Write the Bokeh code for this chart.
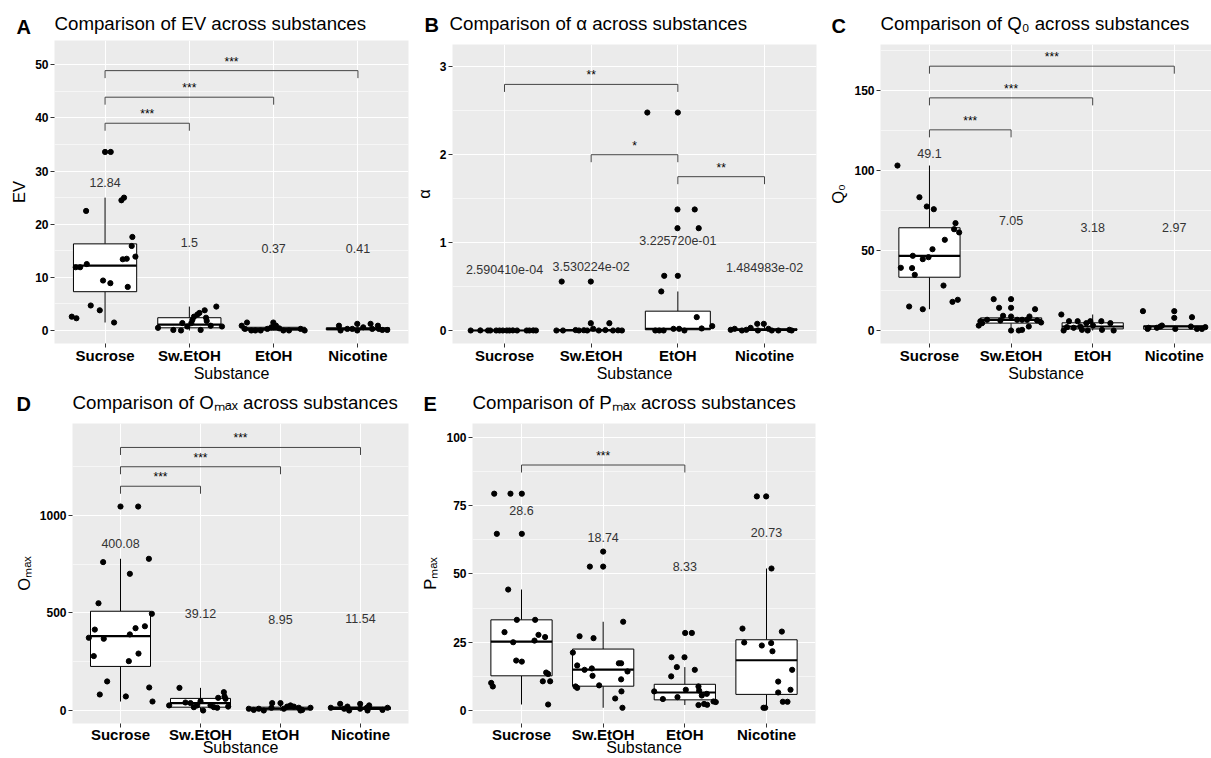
from bokeh.plotting import figure
from bokeh.models import FixedTicker, Range1d
from bokeh.layouts import row, column
from bokeh.embed import file_html
from bokeh.resources import INLINE
from bokeh.core.properties import value

FONT = "Liberation Sans"
CATEGORIES = ["Sucrose", "Sw.EtOH", "EtOH", "Nicotine"]

# ---------------- Panel A : EV ----------------
ev_suc = [33.6, 33.6, 22.5, 24.5, 25.0, 17.6, 15.9, 13.9, 13.4, 13.5, 11.9, 11.9, 12.5, 9.4, 8.9, 8.2, 4.7, 3.8, 2.6, 2.3, 1.5]
ev_suc_jit = [0.0, 0.067, -0.225, 0.194, 0.225, 0.324, 0.316, 0.36, 0.21, 0.257, -0.348, -0.296, -0.217, -0.024, 0.063, 0.269, -0.17, -0.063, -0.395, -0.34, 0.107]
ev_sw = [0.5, 0.1, 0.0, 1.4, 1.4, 2.6, 3.0, 3.3, 3.8, 4.5, 2.4, 1.8, 0.1, 0.9, 0.75, 2.0, 0.75]
ev_sw_jit = [-0.372, -0.19, -0.099, -0.083, 0.024, 0.055, 0.095, 0.119, 0.182, 0.32, 0.198, 0.206, 0.134, 0.253, 0.387, 0.036, -0.024]
ev_etoh = [0.9, 1.5, 0.3, 0.0, 0.0, 0.0, 0.3, 0.6, 1.5, 0.9, 0.4, 0.0, 0.0, 0.3, 0.0]
ev_etoh_jit = [-0.379, -0.316, -0.34, -0.265, -0.217, -0.154, -0.075, -0.028, -0.004, 0.028, 0.067, 0.115, 0.182, 0.32, 0.368]
ev_nic = [0.9, 0.0, 0.3, 0.3, 1.25, 0.0, 0.6, 1.25, 0.3, 0.9, 0.3, 0.1, 0.1]
ev_nic_jit = [-0.225, -0.206, -0.126, -0.067, -0.008, -0.008, 0.063, 0.15, 0.17, 0.237, 0.249, 0.289, 0.348]
ev_q1 = [7.3, 0.5, 0.05, 0.1]
ev_med = [12.2, 1.1, 0.3, 0.3]
ev_q3 = [16.3, 2.4, 0.6, 0.5]
ev_lo = [1.5, 0.0, 0.0, 0.0]
ev_hi = [25.0, 4.5, 1.5, 1.25]
ev_mean = [12.84, 1.5, 0.37, 0.41]
ev_mean_text = ["12.84", "1.5", "0.37", "0.41"]
ev_br_from = ["Sucrose", "Sucrose", "Sucrose"]
ev_br_to = ["Sw.EtOH", "EtOH", "Nicotine"]
ev_br_y = [39.0, 43.9, 48.9]
ev_br_text = ["***", "***", "***"]
ev_ticks = [0, 10, 20, 30, 40, 50]
ev_minor = [5, 15, 25, 35, 45]

# ---------------- Panel B : alpha ----------------
al_suc = [0.0, 0.001, 0.0, 0.0, 0.0, 0.0, 0.0, 0.0, 0.0, 0.001, 0.0, 0.0, 0.0, 0.001, 0.0]
al_suc_jit = [-0.39, -0.279, -0.191, -0.164, -0.096, -0.057, -0.019, 0.027, 0.057, 0.096, 0.145, 0.256, 0.287, 0.332, 0.363]
al_sw = [0.557, 0.557, 0.083, 0.083, 0.0, 0.0, 0.005, 0.0, 0.003, 0.0, 0.02, 0.0, 0.005, 0.0, 0.002, 0.0]
al_sw_jit = [-0.34, -0.004, -0.004, 0.21, -0.401, -0.325, -0.18, -0.141, -0.084, -0.046, 0.023, 0.088, 0.164, 0.252, 0.31, 0.355]
al_etoh = [2.48, 2.48, 1.377, 1.377, 1.164, 1.164, 0.622, 0.622, 0.444, 0.152, 0.05, 0.023, 0.0, 0.0, 0.0, 0.019, 0.019, 0.0]
al_etoh_jit = [-0.352, 0.0, -0.004, 0.195, -0.004, 0.241, -0.157, 0.0, -0.191, 0.218, 0.397, 0.275, -0.26, -0.214, -0.164, -0.05, 0.015, 0.076]
al_nic = [0.008, 0.019, 0.0, 0.008, 0.03, 0.076, 0.0, 0.076, 0.019, 0.0, 0.0, 0.008, 0.0]
al_nic_jit = [-0.39, -0.344, -0.26, -0.21, -0.16, -0.084, -0.076, -0.008, 0.046, 0.084, 0.16, 0.287, 0.313]
al_q1 = [0.0, 0.0, 0.008, 0.002]
al_med = [0.0, 0.002, 0.02, 0.008]
al_q3 = [0.001, 0.01, 0.22, 0.02]
al_lo = [0.0, 0.0, 0.0, 0.0]
al_hi = [0.001, 0.02, 0.444, 0.05]
al_mean = [2.590410e-04, 3.530224e-02, 3.225720e-01, 1.484983e-02]
al_mean_text = ["2.590410e-04", "3.530224e-02", "3.225720e-01", "1.484983e-02"]
al_br_from = ["Sucrose", "Sw.EtOH", "EtOH"]
al_br_to = ["EtOH", "EtOH", "Nicotine"]
al_br_y = [2.80, 2.00, 1.75]
al_br_text = ["**", "*", "**"]
al_ticks = [0, 1, 2, 3]
al_minor = [0.5, 1.5, 2.5]

# ---------------- Panel C : Q0 ----------------
q0_suc = [103.1, 83.3, 77.5, 75.8, 67.1, 63.3, 61.3, 56.7, 50.8, 46.7, 44.6, 45.8, 39.2, 39.0, 34.8, 28.1, 17.9, 19.2, 15.0, 13.3]
q0_suc_jit = [-0.392, -0.123, -0.033, 0.053, 0.319, 0.302, 0.364, 0.188, 0.037, -0.204, -0.082, -0.012, -0.351, -0.213, -0.18, 0.172, 0.282, 0.347, -0.249, -0.082]
q0_sw = [19.6, 19.6, 14.2, 14.2, 13.3, 9.2, 8.75, 8.75, 6.7, 5.8, 3.1, 4.6, 6.7, 6.7, 6.7, 6.3, 5.0, 0.0, 0.0, 0.4, 2.5, 6.25]
q0_sw_jit = [-0.213, 0.0, -0.147, 0.0, 0.294, -0.098, 0.0, 0.225, -0.294, -0.376, -0.396, -0.355, 0.074, 0.135, 0.196, 0.319, 0.368, 0.0, 0.094, 0.135, 0.217, -0.131]
q0_etoh = [10.0, 5.8, 5.8, 4.6, 5.8, 5.8, 4.6, 2.1, 1.7, 0.4, 0.0, 3.1, 0.4, 0.0, 0.0, 2.5]
q0_etoh_jit = [-0.384, -0.29, -0.184, -0.078, -0.029, 0.106, 0.217, -0.315, -0.233, -0.131, -0.061, 0.004, 0.114, 0.257, -0.356, -0.151]
q0_nic = [12.1, 12.1, 7.9, 8.3, 1.0, 1.7, 1.7, 2.5, 3.1, 1.0, 2.5, 1.0, 1.0, 2.1]
q0_nic_jit = [-0.384, 0.0, 0.0, 0.217, -0.327, -0.315, -0.213, -0.172, -0.151, 0.012, 0.204, 0.278, 0.339, 0.38]
q0_q1 = [33.3, 4.6, 1.0, 0.8]
q0_med = [46.7, 6.7, 2.5, 2.5]
q0_q3 = [64.2, 7.9, 4.8, 2.9]
q0_lo = [13.3, 0.0, 0.0, 1.0]
q0_hi = [103.1, 9.2, 10.0, 3.1]
q0_mean = [49.1, 7.05, 3.18, 2.97]
q0_mean_text = ["49.1", "7.05", "3.18", "2.97"]
q0_br_from = ["Sucrose", "Sucrose", "Sucrose"]
q0_br_to = ["Sw.EtOH", "EtOH", "Nicotine"]
q0_br_y = [125.4, 145.4, 165.2]
q0_br_text = ["***", "***", "***"]
q0_ticks = [0, 50, 100, 150]
q0_minor = [25, 75, 125, 175]

# ---------------- Panel D : Omax ----------------
om_suc = [1046, 1046, 761, 778, 701, 550, 496, 415, 422, 432, 373, 368, 390, 279, 292, 253, 149, 118, 82, 72, 46]
om_suc_jit = [0.0, 0.221, -0.217, 0.355, 0.117, -0.275, 0.392, -0.321, 0.188, 0.305, -0.396, -0.209, 0.117, -0.334, 0.225, 0.104, -0.167, 0.359, -0.259, 0.067, 0.4]
om_sw = [116, 94, 72, 60, 65, 41, 38, 26, 48, 17, 0, 26, 17, 14, 20, 26]
om_sw_jit = [-0.263, 0.292, 0.3, 0.313, 0.221, -0.188, -0.125, -0.042, 0.0, -0.083, 0.033, 0.125, 0.167, 0.209, 0.346, -0.392]
om_etoh = [9, 3, 9, 0, 14, 38, 38, 9, 20, 26, 20, 14, 0, 3, 14]
om_etoh_jit = [-0.396, -0.334, -0.271, -0.209, -0.113, -0.104, 0.0, 0.042, 0.083, 0.125, 0.167, 0.229, 0.25, 0.271, 0.375]
om_nic = [14, 34, 9, 20, 0, 34, 9, 14, 26, 0, 3, 14]
om_nic_jit = [-0.371, -0.254, -0.204, -0.163, -0.142, -0.004, -0.004, 0.079, 0.108, 0.088, 0.275, 0.338]
om_q1 = [226, 17, 3, 5]
om_med = [381, 38, 9, 12]
om_q3 = [509, 62, 17, 18]
om_lo = [46, 0, 0, 0]
om_hi = [778, 116, 38, 34]
om_mean = [400.08, 39.12, 8.95, 11.54]
om_mean_text = ["400.08", "39.12", "8.95", "11.54"]
om_br_from = ["Sucrose", "Sucrose", "Sucrose"]
om_br_to = ["Sw.EtOH", "EtOH", "Nicotine"]
om_br_y = [1150, 1250, 1349]
om_br_text = ["***", "***", "***"]
om_ticks = [0, 500, 1000]
om_minor = [250, 750, 1250]

# ---------------- Panel E : Pmax ----------------
pm_suc = [79.4, 79.4, 79.4, 64.7, 64.7, 44.3, 33.2, 33.2, 28.7, 27.7, 25.0, 25.6, 26.9, 18.3, 17.9, 13.9, 13.4, 10.1, 8.8, 10.7, 10.7, 2.2]
pm_suc_jit = [-0.334, -0.135, 0.004, -0.302, 0.004, -0.163, -0.057, 0.167, -0.208, 0.208, -0.102, 0.159, 0.289, -0.065, 0.004, 0.302, 0.326, -0.371, -0.351, 0.261, 0.351, 0.326]
pm_sw = [58.2, 52.7, 52.7, 32.5, 27.2, 26.5, 21.2, 16.5, 14.9, 15.4, 12.7, 17.3, 17.3, 14.3, 11.4, 8.8, 8.3, 9.2, 7.0, 4.4, 1.0]
pm_sw_jit = [0.0, -0.163, 0.0, 0.245, -0.289, -0.118, -0.371, -0.318, -0.228, -0.139, -0.13, 0.192, 0.22, 0.298, 0.22, -0.338, -0.318, -0.049, 0.224, 0.147, 0.236]
pm_etoh = [28.4, 28.4, 19.5, 19.5, 15.9, 14.9, 12.5, 7.0, 7.6, 8.8, 7.3, 4.2, 4.9, 6.1, 5.5, 2.0, 2.4, 2.1, 3.3, 3.1]
pm_etoh_jit = [0.004, 0.086, -0.163, -0.004, -0.098, 0.122, -0.167, -0.375, 0.012, 0.167, 0.175, -0.269, -0.09, 0.269, 0.208, 0.167, 0.236, 0.273, 0.351, 0.379]
pm_nic = [78.4, 78.4, 52.0, 30.0, 28.9, 24.9, 23.8, 24.7, 21.7, 14.9, 10.6, 6.6, 7.6, 3.2, 3.2, 1.0, 1.0]
pm_nic_jit = [-0.118, -0.004, 0.061, -0.294, 0.188, -0.273, -0.057, 0.057, 0.073, 0.314, 0.143, 0.143, 0.294, 0.2, 0.257, -0.037, -0.016]
pm_q1 = [12.7, 8.9, 3.9, 5.9]
pm_med = [25.2, 15.0, 6.6, 18.4]
pm_q3 = [33.2, 22.5, 9.6, 25.9]
pm_lo = [2.2, 1.0, 2.0, 1.0]
pm_hi = [44.3, 32.5, 15.9, 52.0]
pm_mean = [28.6, 18.74, 8.33, 20.73]
pm_mean_text = ["28.6", "18.74", "8.33", "20.73"]
pm_br_from = ["Sucrose"]
pm_br_to = ["EtOH"]
pm_br_y = [89.9]
pm_br_text = ["***"]
pm_ticks = [0, 25, 50, 75, 100]
pm_minor = [12.5, 37.5, 62.5, 87.5]

POS = {c: i + 1 for i, c in enumerate(CATEGORIES)}


def header(g):
    """Strip above a panel (full-width frame) holding the bold letter and the title."""
    w, h = g["width"], g["hh"]
    p = figure(width=w, height=h, output_backend="svg", toolbar_location=None,
               x_range=Range1d(0, w), y_range=Range1d(h, 0),
               x_axis_location=None, y_axis_location=None,
               min_border_left=0, min_border_right=0, min_border_top=0, min_border_bottom=0)
    p.grid.visible = False
    p.outline_line_color = None
    p.background_fill_color = "white"
    p.border_fill_color = "white"
    p.text(x=[g["letter_x"] - g["left"]], y=[g["letter_mid"]], text=[g["letter"]],
           text_font=value(FONT), text_font_size=value("20px"), text_font_style="bold",
           text_color="black", text_align="left", text_baseline="middle")
    p.text(x=[g["bl"]], y=[g["title_mid"]], text=[g["title"]],
           text_font=value(FONT), text_font_size=value("18.7px"), text_color="black",
           text_align="left", text_baseline="middle")
    return p


def panel(g):
    height = g["height"] - g["hh"]
    fh = height - g["bt"] - g["bb"]
    x0, x1 = g["xr"]
    y0, y1 = g["yr"]
    upp = (y1 - y0) / fh  # data units per pixel

    p = figure(width=g["width"], height=height, output_backend="svg", toolbar_location=None,
               x_range=Range1d(x0, x1), y_range=Range1d(y0, y1),
               min_border_left=g["bl"], min_border_right=g["br"],
               min_border_top=g["bt"], min_border_bottom=g["bb"])
    p.background_fill_color = "#EBEBEB"
    p.border_fill_color = "white"
    p.outline_line_color = None

    p.xaxis.ticker = FixedTicker(ticks=[1, 2, 3, 4])
    p.xaxis.major_label_overrides = {i + 1: c for i, c in enumerate(CATEGORIES)}
    p.yaxis.ticker = FixedTicker(ticks=g["ticks"], minor_ticks=g["minor"])
    for ax in (p.xaxis[0], p.yaxis[0]):
        ax.axis_line_color = None
        ax.major_tick_line_color = "#333333"
        ax.major_tick_in = 0
        ax.major_tick_out = 4
        ax.minor_tick_line_color = None
        ax.major_label_text_font = FONT
        ax.major_label_text_font_style = "bold"
        ax.major_label_text_color = "black"
        ax.axis_label_text_font = FONT
        ax.axis_label_text_font_style = "normal"
        ax.axis_label_text_color = "black"
    p.xaxis.major_label_standoff = g["lstand"]
    p.yaxis.major_label_standoff = 2
    p.xaxis.major_label_text_font_size = "15px"
    p.yaxis.major_label_text_font_size = "12px"
    p.yaxis.axis_label = g["ylabel"]
    p.yaxis.axis_label_text_font_size = "16.5px"
    p.yaxis.axis_label_standoff = 4
    p.xaxis.axis_label = "Substance"
    p.xaxis.axis_label_text_font_size = "16px"
    p.xaxis.axis_label_standoff = g["xstand"]

    p.xgrid.ticker = FixedTicker(ticks=[1, 2, 3, 4])
    p.xgrid.grid_line_color = "white"
    p.xgrid.grid_line_width = 1.1
    p.ygrid.grid_line_color = "white"
    p.ygrid.grid_line_width = 1.1
    p.ygrid.minor_grid_line_color = "white"
    p.ygrid.minor_grid_line_width = 0.55

    xs = [1, 2, 3, 4]
    q1, med, q3, lo, hi = g["box"]
    p.segment(x0=xs, y0=q3, x1=xs, y1=hi, line_color="black", line_width=1)
    p.segment(x0=xs, y0=q1, x1=xs, y1=lo, line_color="black", line_width=1)
    p.quad(left=[x - 0.375 for x in xs], right=[x + 0.375 for x in xs], bottom=q1, top=q3,
           fill_color="white", line_color="black", line_width=1)
    p.segment(x0=[x - 0.375 for x in xs], y0=med, x1=[x + 0.375 for x in xs], y1=med,
              line_color="black", line_width=2.2)
    for cat, (vals, jit) in zip(CATEGORIES, g["points"]):
        p.scatter(x=[POS[cat] + j for j in jit], y=vals, size=5.2, color="black")
    p.text(x=xs, y=[m + g["moff"] + 1.5 * upp for m in g["mean"]], text=g["mean_text"],
           text_font=value(FONT), text_font_size=value("12.5px"), text_color="#333333",
           text_align="center", text_baseline="middle")
    tip = 7.5 * upp
    bf, bto, by, btxt = g["brackets"]
    xa = [POS[c] for c in bf]
    xb = [POS[c] for c in bto]
    p.segment(x0=xa, y0=by, x1=xb, y1=by, line_color="#444444", line_width=1)
    p.segment(x0=xa, y0=by, x1=xa, y1=[y - tip for y in by], line_color="#444444", line_width=1)
    p.segment(x0=xb, y0=by, x1=xb, y1=[y - tip for y in by], line_color="#444444", line_width=1)
    p.text(x=[(a + b) / 2 for a, b in zip(xa, xb)], y=[y + 9 * upp for y in by], text=btxt,
           text_font=value(FONT), text_font_size=value("12px"), text_color="black",
           text_align="center", text_baseline="middle")
    return p


panels = [
    dict(letter="A", title="Comparison of EV across substances", ylabel="EV",
         left=0, top=0, width=411, height=386, hh=40, bl=54, br=3, bt=0, bb=43, lstand=-1, xstand=-2,
         xr=(0.4, 4.6), yr=(-2.45, 54.57), ticks=ev_ticks, minor=ev_minor,
         points=[(ev_suc, ev_suc_jit), (ev_sw, ev_sw_jit), (ev_etoh, ev_etoh_jit), (ev_nic, ev_nic_jit)],
         box=(ev_q1, ev_med, ev_q3, ev_lo, ev_hi), mean=ev_mean, mean_text=ev_mean_text, moff=14.7,
         brackets=(ev_br_from, ev_br_to, ev_br_y, ev_br_text),
         letter_x=16, letter_mid=26.6, title_mid=22.8),
    dict(letter="B", title="Comparison of α across substances", ylabel="α",
         left=411, top=0, width=415, height=386, hh=40, bl=38, br=10, bt=4, bb=43, lstand=-1, xstand=-2,
         xr=(0.4, 4.6), yr=(-0.148, 3.254), ticks=al_ticks, minor=al_minor,
         points=[(al_suc, al_suc_jit), (al_sw, al_sw_jit), (al_etoh, al_etoh_jit), (al_nic, al_nic_jit)],
         box=(al_q1, al_med, al_q3, al_lo, al_hi), mean=al_mean, mean_text=al_mean_text, moff=0.68,
         brackets=(al_br_from, al_br_to, al_br_y, al_br_text),
         letter_x=424, letter_mid=24.6, title_mid=22.8),
    dict(letter="C", title="Comparison of Q₀ across substances", ylabel="Q₀",
         left=826, top=0, width=385, height=386, hh=40, bl=54, br=0, bt=4, bb=43, lstand=-1, xstand=-2,
         xr=(0.4, 4.456), yr=(-8.125, 178.75), ticks=q0_ticks, minor=q0_minor,
         points=[(q0_suc, q0_suc_jit), (q0_sw, q0_sw_jit), (q0_etoh, q0_etoh_jit), (q0_nic, q0_nic_jit)],
         box=(q0_q1, q0_med, q0_q3, q0_lo, q0_hi), mean=q0_mean, mean_text=q0_mean_text, moff=60.5,
         brackets=(q0_br_from, q0_br_to, q0_br_y, q0_br_text),
         letter_x=831, letter_mid=25.5, title_mid=22.8),
    dict(letter="D", title="Comparison of Oₘₐₓ across substances", ylabel="Oₘₐₓ",
         left=0, top=386, width=418, height=372, hh=37, bl=72, br=10, bt=0, bb=35, lstand=-2, xstand=-7,
         xr=(0.4, 4.6), yr=(-66.7, 1471.8), ticks=om_ticks, minor=om_minor,
         points=[(om_suc, om_suc_jit), (om_sw, om_sw_jit), (om_etoh, om_etoh_jit), (om_nic, om_nic_jit)],
         box=(om_q1, om_med, om_q3, om_lo, om_hi), mean=om_mean, mean_text=om_mean_text, moff=451,
         brackets=(om_br_from, om_br_to, om_br_y, om_br_text),
         letter_x=16, letter_mid=17.4, title_mid=15.5),
    dict(letter="E", title="Comparison of Pₘₐₓ across substances", ylabel="Pₘₐₓ",
         left=418, top=386, width=410, height=372, hh=37, bl=54, br=13, bt=0, bb=35, lstand=-2, xstand=-7,
         xr=(0.4, 4.6), yr=(-4.76, 105.1), ticks=pm_ticks, minor=pm_minor,
         points=[(pm_suc, pm_suc_jit), (pm_sw, pm_sw_jit), (pm_etoh, pm_etoh_jit), (pm_nic, pm_nic_jit)],
         box=(pm_q1, pm_med, pm_q3, pm_lo, pm_hi), mean=pm_mean, mean_text=pm_mean_text, moff=44,
         brackets=(pm_br_from, pm_br_to, pm_br_y, pm_br_text),
         letter_x=423, letter_mid=17.4, title_mid=15.5),
]

heads = [column(header(g), spacing=0) for g in panels]
plots = [column(panel(g), spacing=0) for g in panels]
layout = column(
    row(heads[0], heads[1], heads[2], spacing=0),
    row(plots[0], plots[1], plots[2], spacing=0),
    row(heads[3], heads[4], spacing=0),
    row(plots[3], plots[4], spacing=0),
    spacing=0,
)

with open("out.html", "w") as f:
    f.write(file_html(layout, INLINE, title="Comparison across substances"))
